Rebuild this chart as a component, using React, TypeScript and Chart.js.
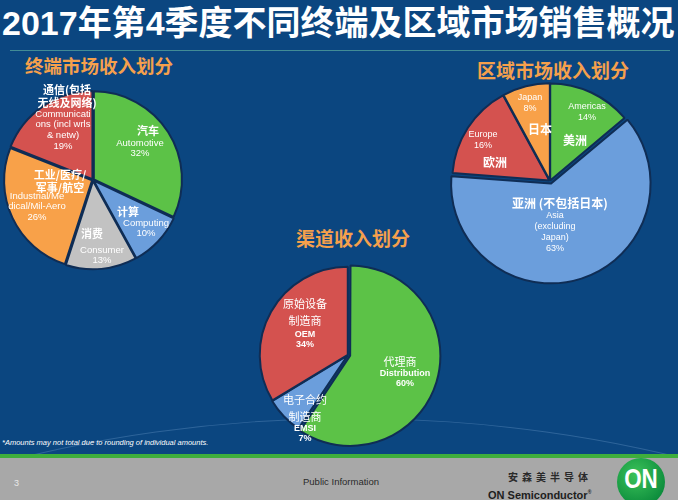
import React, { useEffect, useRef } from 'react';
import Chart from 'chart.js/auto';

// ---- Data ----
const terminalZh = [['汽车'], ['计算'], ['消费'], ['工业/医疗/', '军事/航空'], ['通信(包括', '无线及网络)']];
const terminalEn = [['Automotive'], ['Computing'], ['Consumer'], ['Industrial/Me', 'dical/Mil-Aero'], ['Communicati', 'ons (incl wrls', '& netw)']];
const terminalValues = [32, 10, 13, 26, 19];

const regionZh = [['美洲'], ['亚洲 (不包括日本)'], ['欧洲'], ['日本']];
const regionEn = [['Americas'], ['Asia', '(excluding', 'Japan)'], ['Europe'], ['Japan']];
const regionValues = [14, 63, 16, 8];

const channelZh = [['代理商'], ['电子合约', '制造商'], ['原始设备', '制造商']];
const channelEn = [['Distribution'], ['EMSI'], ['OEM']];
const channelValues = [60, 7, 34];

const titleText = '2017年第4季度不同终端及区域市场销售概况';
const terminalTitle = '终端市场收入划分';
const regionTitle = '区域市场收入划分';
const channelTitle = '渠道收入划分';
const footnote = '*Amounts may not total due to rounding of individual amounts.';

// ---- Styles ----
const GREEN = '#5cc247';
const BLUE = '#6b9edc';
const GRAY = '#c2c2c2';
const ORANGE = '#f8a149';
const RED = '#d4524f';
const BG = '#0b4680';
const GAP = '#0f2d55';
const SUB = '#f5a04c';

const EN_FONT = "'Liberation Sans Narrow', 'Liberation Sans', Arial, sans-serif";
const ZH_FONT = "'Noto Sans CJK SC', 'Noto Sans', sans-serif";

type Place = { zx: number; zy: number; ex: number; ey: number };

interface PieProps {
  cx: number; cy: number; radius: number; size: number;
  values: number[]; colors: string[]; offsets: number[];
  zh: string[][]; en: string[][]; place: Place[];
  zhFont: string; enFont: string; zhLH: number; enLH: number;
}

const labelPlugin = {
  id: 'sliceLabels',
  afterDatasetsDraw(chart: any, _args: any, opts: any) {
    const meta = chart.getDatasetMeta(0);
    const ctx = chart.ctx as CanvasRenderingContext2D;
    ctx.save();
    ctx.fillStyle = '#ffffff';
    ctx.textAlign = 'center';
    ctx.textBaseline = 'middle';
    meta.data.forEach((arc: any, i: number) => {
      const p: Place = opts.place[i];
      const x = arc.x, y = arc.y;
      ctx.font = opts.zhFont;
      (opts.zh[i] as string[]).forEach((t, k) => ctx.fillText(t, x + p.zx, y + p.zy + k * opts.zhLH));
      ctx.font = opts.enFont;
      const lines = [...(opts.en[i] as string[]), opts.values[i] + '%'];
      lines.forEach((t, k) => ctx.fillText(t, x + p.ex, y + p.ey + k * opts.enLH));
    });
    ctx.restore();
  },
};

function Pie(props: PieProps) {
  const ref = useRef<HTMLCanvasElement | null>(null);
  useEffect(() => {
    if (!ref.current) return;
    const chart = new Chart(ref.current, {
      type: 'pie',
      data: {
        labels: props.en.map((l) => l.join(' ')),
        datasets: [{
          data: props.values,
          backgroundColor: props.colors,
          borderColor: GAP,
          borderWidth: 2,
          offset: props.offsets,
        }],
      },
      options: {
        responsive: false,
        animation: false,
        events: [],
        radius: props.radius,
        layout: { padding: 0 },
        plugins: {
          legend: { display: false },
          tooltip: { enabled: false },
          sliceLabels: {
            place: props.place, zh: props.zh, en: props.en, values: props.values,
            zhFont: props.zhFont, enFont: props.enFont, zhLH: props.zhLH, enLH: props.enLH,
          },
        } as any,
      } as any,
      plugins: [labelPlugin as any],
    });
    return () => chart.destroy();
  }, []);
  return (
    <canvas
      ref={ref}
      width={props.size}
      height={props.size}
      style={{ position: 'absolute', left: props.cx - props.size / 2, top: props.cy - props.size / 2, width: props.size, height: props.size }}
    />
  );
}

const abs = (s: React.CSSProperties): React.CSSProperties => ({ position: 'absolute', ...s });

export default function App() {
  return (
    <div style={{ position: 'fixed', left: 0, top: 0, width: 678, height: 500, overflow: 'hidden', background: BG, fontFamily: ZH_FONT }}>
      {/* decorative faint curve */}
      <div style={abs({ left: -650, top: 418, width: 2000, height: 1400, borderRadius: '50%', border: '1px solid rgba(150,190,230,0.25)' })} />
      {/* title */}
      <div style={abs({ left: 2, top: 3, whiteSpace: 'nowrap', color: '#fff', fontSize: 34, fontWeight: 700, lineHeight: '40px', fontFamily: "'Liberation Sans', " + ZH_FONT })}>{titleText}</div>
      <div style={abs({ left: 10, top: 50, width: 660, height: 1, background: 'rgba(90,170,160,0.7)' })} />
      {/* subtitles */}
      <div style={abs({ left: 25, top: 52, color: SUB, fontSize: 18.5, fontWeight: 700, lineHeight: '26px', whiteSpace: 'nowrap' })}>{terminalTitle}</div>
      <div style={abs({ left: 477, top: 57, color: SUB, fontSize: 19, fontWeight: 700, lineHeight: '26px', whiteSpace: 'nowrap' })}>{regionTitle}</div>
      <div style={abs({ left: 296, top: 224, color: SUB, fontSize: 19, fontWeight: 700, lineHeight: '28px', whiteSpace: 'nowrap' })}>{channelTitle}</div>

      <Pie
        cx={93} cy={180} radius={88} size={240}
        values={terminalValues} colors={[GREEN, BLUE, GRAY, ORANGE, RED]} offsets={[4, 4, 4, 4, 4]}
        zh={terminalZh} en={terminalEn}
        place={[
          { zx: 55, zy: -49, ex: 47, ey: -37 },
          { zx: 35, zy: 32, ex: 53, ey: 43 },
          { zx: -1, zy: 54, ex: 9, ey: 70 },
          { zx: -33, zy: -5, ex: -56, ey: 16 },
          { zx: -26, zy: -90, ex: -30, ey: -66 },
        ]}
        zhFont={`700 11px ${ZH_FONT}`} enFont={`9.5px ${EN_FONT}`} zhLH={12.5} enLH={10.8}
      />
      <Pie
        cx={550} cy={181} radius={97} size={260}
        values={regionValues} colors={[GREEN, BLUE, RED, ORANGE]} offsets={[2, 11, 3, 2]}
        zh={regionZh} en={regionEn}
        place={[
          { zx: 25, zy: -41, ex: 37, ey: -74 },
          { zx: 10, zy: 22, ex: 5, ey: 35 },
          { zx: -55, zy: -19, ex: -67, ey: -46 },
          { zx: -10, zy: -52, ex: -20, ey: -83 },
        ]}
        zhFont={`700 12px ${ZH_FONT}`} enFont={`9px ${EN_FONT}`} zhLH={12} enLH={10.8}
      />
      <Pie
        cx={348} cy={355} radius={88} size={230}
        values={channelValues} colors={[GREEN, BLUE, RED]} offsets={[9, 2, 1]}
        zh={channelZh} en={channelEn}
        place={[
          { zx: 52, zy: 7, ex: 57, ey: 19 },
          { zx: -43, zy: 45, ex: -43, ey: 74 },
          { zx: -43, zy: -51, ex: -43, ey: -20 },
        ]}
        zhFont={`400 11px ${ZH_FONT}`} enFont={`700 9px ${EN_FONT}`} zhLH={17} enLH={10}
      />

      {/* footnote */}
      <div style={abs({ left: 2, top: 438, color: '#fff', fontSize: 7.5, fontStyle: 'italic', fontFamily: "'Liberation Sans', Arial, sans-serif", whiteSpace: 'nowrap', lineHeight: '10px' })}>{footnote}</div>
      {/* footer */}
      <div style={abs({ left: 0, top: 454, width: 678, height: 4, background: '#3fae3c' })} />
      <div style={abs({ left: 0, top: 458, width: 678, height: 42, background: '#a8a8a8' })} />
      <div style={abs({ left: 14, top: 477, color: '#e8e8e8', fontSize: 9, fontFamily: "'Liberation Sans', Arial", lineHeight: '12px' })}>3</div>
      <div style={abs({ left: 303, top: 476, color: '#2a2a2a', fontSize: 9.5, fontFamily: "'Liberation Sans', Arial", lineHeight: '12px', whiteSpace: 'nowrap' })}>Public Information</div>
      <div style={abs({ left: 508, top: 470, color: '#2a2a2a', fontSize: 10, fontWeight: 700, letterSpacing: 4, lineHeight: '13px', whiteSpace: 'nowrap' })}>安森美半导体</div>
      <div style={abs({ left: 488, top: 485, color: '#1e1e1e', fontSize: 11, fontWeight: 700, fontFamily: "'Liberation Sans', Arial", lineHeight: '14px', whiteSpace: 'nowrap' })}>ON Semiconductor<sup style={{ fontSize: 5 }}>®</sup></div>
      <div style={abs({ left: 617, top: 458, width: 48, height: 48, borderRadius: '50%', background: 'radial-gradient(circle at 40% 35%, #3cc35a, #0c8c3c 75%)' })} />
      <div style={abs({ left: 617, top: 463, width: 48, textAlign: 'center', color: '#fff', fontSize: 28, fontWeight: 700, fontFamily: "'Liberation Sans Narrow', 'Liberation Sans', Arial", lineHeight: '32px', transform: 'scaleX(0.8)' })}>ON</div>
    </div>
  );
}
